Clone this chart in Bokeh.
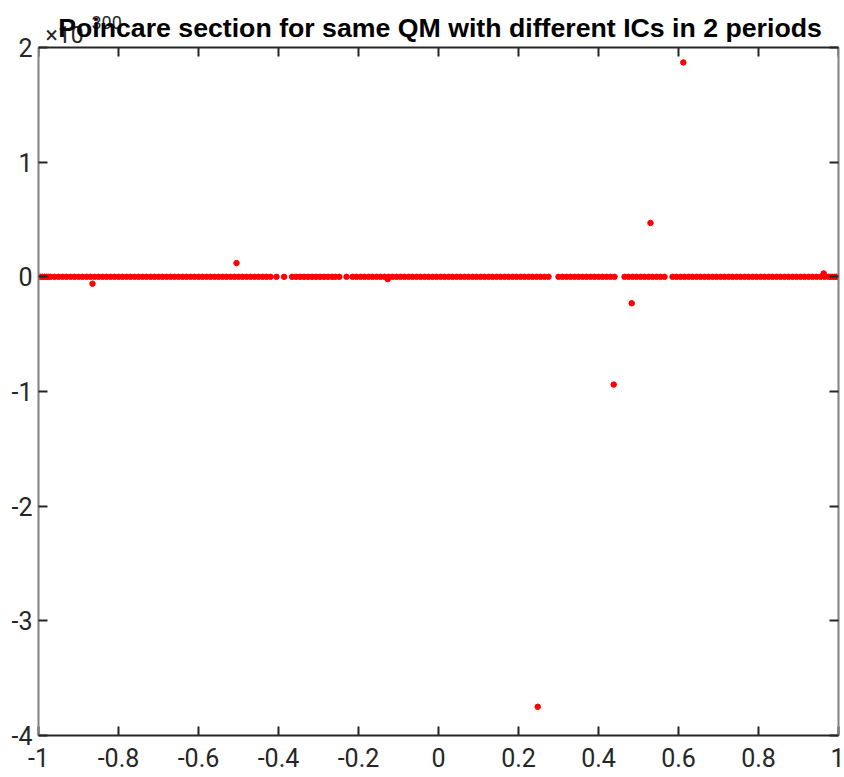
import math
from bokeh.plotting import figure
from bokeh.models import LinearAxis, Label, Range1d, FixedTicker, ColumnDataSource, Span
from bokeh.embed import file_html
from bokeh.resources import INLINE

# ---- data (y in units of 1e300) ----
line_x = [
    -1.000, -0.995, -0.990, -0.985, -0.980, -0.975, -0.970, -0.960, -0.950, -0.940,
    -0.930, -0.920, -0.910, -0.900, -0.890, -0.880, -0.870, -0.860, -0.850, -0.840,
    -0.830, -0.820, -0.810, -0.800, -0.790, -0.780, -0.770, -0.760, -0.750, -0.740,
    -0.730, -0.720, -0.710, -0.700, -0.690, -0.680, -0.670, -0.660, -0.650, -0.640,
    -0.630, -0.620, -0.610, -0.600, -0.590, -0.580, -0.570, -0.560, -0.550, -0.540,
    -0.530, -0.520, -0.510, -0.500, -0.490, -0.480, -0.470, -0.460, -0.450, -0.440,
    -0.430, -0.420, -0.405, -0.386, -0.366, -0.356, -0.346, -0.336, -0.326, -0.316,
    -0.306, -0.296, -0.286, -0.276, -0.266, -0.258, -0.248, -0.230, -0.215, -0.205,
    -0.195, -0.185, -0.175, -0.165, -0.155, -0.145, -0.135, -0.125, -0.115, -0.105,
    -0.095, -0.085, -0.075, -0.065, -0.055, -0.045, -0.035, -0.025, -0.015, -0.005,
    0.005, 0.015, 0.025, 0.035, 0.045, 0.055, 0.065, 0.075, 0.085, 0.095,
    0.105, 0.115, 0.125, 0.135, 0.145, 0.155, 0.165, 0.175, 0.185, 0.195,
    0.205, 0.215, 0.225, 0.235, 0.245, 0.255, 0.265, 0.275, 0.300, 0.310,
    0.320, 0.330, 0.340, 0.350, 0.360, 0.370, 0.380, 0.390, 0.400, 0.410,
    0.420, 0.430, 0.440, 0.465, 0.475, 0.485, 0.495, 0.505, 0.515, 0.525,
    0.535, 0.545, 0.555, 0.565, 0.585, 0.595, 0.605, 0.615, 0.625, 0.635,
    0.645, 0.655, 0.665, 0.675, 0.685, 0.695, 0.705, 0.715, 0.725, 0.735,
    0.745, 0.755, 0.765, 0.775, 0.785, 0.795, 0.805, 0.815, 0.825, 0.835,
    0.845, 0.855, 0.865, 0.875, 0.885, 0.895, 0.905, 0.915, 0.925, 0.935,
    0.945, 0.955, 0.965, 0.975, 0.980, 0.985, 0.990, 0.995, 1.000,
]
line_y = [0.0 for _ in line_x]

outlier_x = [-0.865, -0.505, -0.127, 0.248, 0.438, 0.483, 0.530, 0.612, 0.963]
outlier_y = [-0.06, 0.12, -0.02, -3.75, -0.94, -0.23, 0.47, 1.87, 0.03]

x_ticks = [-1, -0.8, -0.6, -0.4, -0.2, 0, 0.2, 0.4, 0.6, 0.8, 1]
x_tick_labels = ["-1", "-0.8", "-0.6", "-0.4", "-0.2", "0", "0.2", "0.4", "0.6", "0.8", "1"]
y_ticks = [-4, -3, -2, -1, 0, 1, 2]
y_tick_labels = ["-4", "-3", "-2", "-1", "0", "1", "2"]
title_text = "Poincare section for same QM with different ICs in 2 periods"
exp_base = "×10"
exp_power = "300"

TICK_FONT = "Roboto"
Y_MIN, Y_MAX = y_ticks[0], y_ticks[-1]
# the frame extends above the axes box so the title texts live inside it
FRAME_TOP = Y_MAX + 47 / (688 / (Y_MAX - Y_MIN))

p = figure(width=844, height=777, output_backend="svg", toolbar_location=None,
           x_range=Range1d(x_ticks[0], x_ticks[-1]), y_range=Range1d(Y_MIN, FRAME_TOP),
           min_border_left=38, min_border_right=6, min_border_top=0, min_border_bottom=42,
           x_axis_location=None, y_axis_location=None)
p.outline_line_color = None
p.xgrid.visible = False
p.ygrid.visible = False
p.background_fill_color = "white"
p.border_fill_color = "white"

def style_axis(ax, ticks, labels=None, color="#262626", standoff=8):
    ax.ticker = FixedTicker(ticks=ticks)
    ax.axis_line_color = color
    ax.axis_line_width = 2
    ax.major_tick_line_color = "#262626"
    ax.major_tick_line_width = 2
    ax.major_tick_in = 9
    ax.major_tick_out = 0
    ax.minor_tick_line_color = None
    if labels is not None:
        ax.major_label_overrides = {t: s for t, s in zip(ticks, labels)}
        ax.major_label_text_font = TICK_FONT
        ax.major_label_text_font_size = "25px"
        ax.major_label_text_color = "#262626"
        ax.major_label_standoff = standoff
    else:
        ax.major_label_text_font_size = "1px"
        ax.major_label_text_color = None
        ax.major_label_standoff = 0

xb = LinearAxis(); style_axis(xb, x_ticks, x_tick_labels, "#262626", 12)
yl = LinearAxis(); style_axis(yl, y_ticks, y_tick_labels, "#808080", 6)
yr = LinearAxis(); style_axis(yr, y_ticks, None, "#808080")
yl.bounds = (Y_MIN, Y_MAX)
yr.bounds = (Y_MIN, Y_MAX)
p.add_layout(xb, "below")
p.add_layout(yl, "left")
p.add_layout(yr, "right")

# top edge of the box with inward ticks
p.add_layout(Span(location=Y_MAX, dimension="width", line_color="#262626", line_width=2))
p.ray(x=x_ticks, y=[Y_MAX for _ in x_ticks], length=9, length_units="screen",
      angle=-math.pi / 2, line_color="#262626", line_width=2)

src_line = ColumnDataSource(dict(x=line_x, y=line_y))
src_out = ColumnDataSource(dict(x=outlier_x, y=outlier_y))
p.scatter("x", "y", source=src_line, size=5.5, color="#ff0000", line_color="#ff0000")
p.scatter("x", "y", source=src_out, size=5.5, color="#ff0000", line_color="#ff0000")

# exponent label
p.add_layout(Label(x=45, y=35, x_units="canvas", y_units="canvas", text=exp_base,
                   text_font=TICK_FONT, text_font_size="23px", text_color="#262626",
                   text_baseline="alphabetic"))
p.add_layout(Label(x=91, y=22, x_units="canvas", y_units="canvas", text=exp_power,
                   text_font=TICK_FONT, text_font_size="18px", text_color="#262626",
                   text_baseline="alphabetic"))

# title
p.add_layout(Label(x=0, y=27, x_offset=1.5, x_units="data", y_units="canvas", text=title_text,
                   text_align="center", text_font="Liberation Sans", text_font_size="26.7px",
                   text_font_style="bold", text_color="black", text_baseline="alphabetic"))

open("out.html", "w").write(file_html(p, INLINE))
